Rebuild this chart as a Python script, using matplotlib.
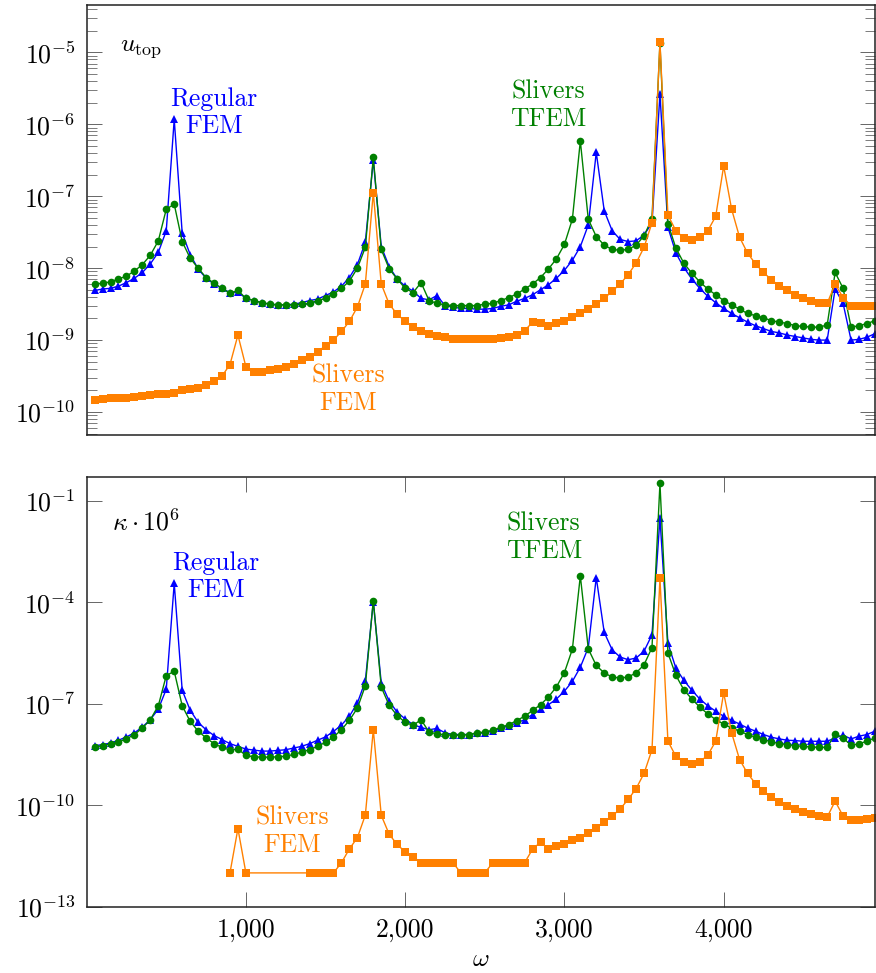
"""
plot.py
Frequency sweep of u_top and kappa for regular FEM, sliver FEM and sliver TFEM.
Output: out.png
"""

import numpy as np
import matplotlib
matplotlib.use("Agg")
import matplotlib.pyplot as plt
from matplotlib.ticker import FixedLocator, FuncFormatter, LogLocator, NullLocator, NullFormatter

# ── data (log10 of the plotted values) ──────────────────────────────────────
omega = list(range(50, 5000, 50))

u_regular_exp = [
    -8.31, -8.29, -8.28, -8.25, -8.20, -8.14, -8.06, -7.94, -7.78, -7.48,
    -5.93, -7.51, -7.81, -8.01, -8.14, -8.22, -8.28, -8.34, -8.33, -8.42,
    -8.45, -8.48, -8.50, -8.51, -8.51, -8.50, -8.48, -8.45, -8.43, -8.38,
    -8.33, -8.25, -8.13, -7.95, -7.64, -6.50, -7.70, -7.98, -8.15, -8.25,
    -8.32, -8.42, -8.44, -8.38, -8.52, -8.54, -8.56, -8.56, -8.57, -8.57,
    -8.56, -8.53, -8.51, -8.46, -8.42, -8.37, -8.30, -8.23, -8.14, -8.03,
    -7.89, -7.70, -7.40, -6.39, -7.20, -7.48, -7.60, -7.63, -7.62, -7.54,
    -7.37, -5.58, -7.43, -7.79, -7.99, -8.15, -8.28, -8.39, -8.48, -8.56,
    -8.63, -8.69, -8.75, -8.80, -8.84, -8.88, -8.90, -8.93, -8.95, -8.97,
    -8.99, -9.00, -9.00, -8.29, -8.49, -9.00, -8.99, -8.96, -8.91,
]
u_tfem_exp = [
    -8.22, -8.21, -8.19, -8.15, -8.11, -8.04, -7.95, -7.82, -7.62, -7.18,
    -7.11, -7.63, -7.86, -8.00, -8.13, -8.21, -8.28, -8.35, -8.31, -8.42,
    -8.45, -8.48, -8.50, -8.51, -8.51, -8.51, -8.50, -8.49, -8.45, -8.42,
    -8.36, -8.28, -8.18, -8.00, -7.71, -6.46, -7.74, -8.01, -8.15, -8.28,
    -8.34, -8.20, -8.45, -8.49, -8.51, -8.52, -8.52, -8.52, -8.52, -8.50,
    -8.49, -8.45, -8.41, -8.36, -8.29, -8.22, -8.13, -8.01, -7.87, -7.67,
    -7.32, -6.23, -7.32, -7.56, -7.68, -7.74, -7.75, -7.74, -7.68, -7.55,
    -7.31, -4.87, -7.38, -7.72, -7.93, -8.07, -8.19, -8.29, -8.37, -8.45,
    -8.51, -8.57, -8.63, -8.66, -8.69, -8.73, -8.75, -8.77, -8.80, -8.81,
    -8.82, -8.82, -8.79, -8.06, -8.28, -8.82, -8.80, -8.77, -8.73,
]
u_fem_exp = [
    -9.83, -9.82, -9.81, -9.81, -9.80, -9.79, -9.78, -9.77, -9.75, -9.75,
    -9.73, -9.70, -9.68, -9.66, -9.62, -9.57, -9.50, -9.34, -8.93, -9.37,
    -9.44, -9.44, -9.42, -9.40, -9.37, -9.33, -9.28, -9.23, -9.16, -9.08,
    -9.00, -8.88, -8.74, -8.54, -8.22, -6.95, -8.22, -8.50, -8.64, -8.74,
    -8.82, -8.87, -8.91, -8.94, -8.96, -8.98, -8.99, -8.99, -8.99, -8.99,
    -8.98, -8.97, -8.95, -8.93, -8.87, -8.75, -8.76, -8.80, -8.76, -8.73,
    -8.68, -8.63, -8.57, -8.50, -8.42, -8.32, -8.22, -8.09, -7.93, -7.71,
    -7.37, -4.85, -7.26, -7.48, -7.58, -7.61, -7.57, -7.48, -7.28, -6.58,
    -7.18, -7.57, -7.79, -7.94, -8.06, -8.16, -8.25, -8.31, -8.37, -8.41,
    -8.45, -8.48, -8.49, -8.22, -8.41, -8.52, -8.52, -8.52, -8.52,
]

k_regular_exp = [
    -8.24, -8.21, -8.16, -8.08, -7.98, -7.86, -7.69, -7.47, -7.16, -6.57,
    -3.44, -6.60, -7.19, -7.55, -7.77, -7.94, -8.06, -8.18, -8.26, -8.34,
    -8.37, -8.40, -8.40, -8.38, -8.36, -8.31, -8.26, -8.18, -8.08, -7.98,
    -7.82, -7.63, -7.37, -6.98, -6.33, -3.98, -6.39, -6.93, -7.25, -7.45,
    -7.62, -7.70, -7.77, -7.73, -7.86, -7.91, -7.91, -7.91, -7.88, -7.86,
    -7.81, -7.73, -7.65, -7.57, -7.47, -7.32, -7.17, -7.03, -6.86, -6.63,
    -6.34, -5.92, -5.34, -3.27, -4.89, -5.41, -5.62, -5.70, -5.65, -5.45,
    -4.96, -1.52, -5.21, -5.95, -6.31, -6.60, -6.86, -7.06, -7.22, -7.37,
    -7.49, -7.60, -7.72, -7.81, -7.91, -7.99, -8.04, -8.08, -8.09, -8.11,
    -8.11, -8.11, -8.11, -8.01, -7.93, -8.04, -7.96, -7.91, -7.81,
]
k_tfem_exp = [
    -8.28, -8.24, -8.19, -8.13, -8.04, -7.91, -7.72, -7.47, -7.06, -6.17,
    -6.04, -7.06, -7.52, -7.81, -8.01, -8.18, -8.29, -8.37, -8.34, -8.53,
    -8.57, -8.58, -8.58, -8.57, -8.55, -8.50, -8.43, -8.36, -8.26, -8.14,
    -7.98, -7.77, -7.49, -7.13, -6.47, -3.95, -6.51, -7.05, -7.35, -7.55,
    -7.64, -7.47, -7.84, -7.89, -7.92, -7.93, -7.93, -7.91, -7.86, -7.84,
    -7.78, -7.70, -7.62, -7.50, -7.37, -7.20, -7.03, -6.80, -6.50, -6.08,
    -5.39, -3.22, -5.38, -5.87, -6.09, -6.21, -6.24, -6.21, -6.09, -5.85,
    -5.34, -0.49, -5.50, -6.16, -6.59, -6.86, -7.10, -7.30, -7.47, -7.60,
    -7.72, -7.81, -7.91, -7.99, -8.06, -8.13, -8.18, -8.21, -8.24, -8.26,
    -8.28, -8.29, -8.29, -7.89, -8.01, -8.23, -8.18, -8.11, -8.01,
]
# sliver FEM kappa: zero (not drawn on log axis) below 900 and for 1050..1350
k_fem_omega = [900, 950, 1000] + list(range(1400, 5000, 50))
k_fem_exp = [
    -12.0, -10.69, -12.0,
    -12.0, -12.0, -12.0, -12.0,
    -11.70, -11.29, -10.96, -10.29, -7.77, -10.30, -10.86, -11.16, -11.38, -11.52,
    -11.70, -11.70, -11.70, -11.70, -11.70, -12.0, -12.0, -12.0, -12.0, -11.70,
    -11.70, -11.70, -11.70, -11.70, -11.30, -11.09, -11.30, -11.21, -11.16, -11.04,
    -10.96, -10.81, -10.67, -10.50, -10.32, -10.11, -9.83, -9.51, -9.06, -8.36,
    -3.29, -8.11, -8.55, -8.73, -8.78, -8.72, -8.52, -8.11, -6.68, -7.86,
    -8.65, -9.06, -9.36, -9.58, -9.76, -9.91, -10.03, -10.12, -10.20, -10.27,
    -10.32, -10.35, -9.88, -10.32, -10.44, -10.44, -10.40, -10.37,
]

BLUE = "#0000ff"
GREEN = "#008000"
ORANGE = "#ff8000"
FS = 18.5
LS = 1.2


def setup_fonts():
    plt.rcParams["font.family"] = "serif"
    plt.rcParams["font.serif"] = ["cmr10", "DejaVu Serif"]
    plt.rcParams["mathtext.fontset"] = "cm"
    plt.rcParams["axes.formatter.use_mathtext"] = True
    plt.rcParams["font.size"] = FS


def draw_series(ax, series):
    for x, exps, color, marker, ms in series:
        ax.plot(x, 10.0 ** np.array(exps), color=color, lw=1.0,
                marker=marker, markersize=ms, markeredgewidth=0)


def style_axis(ax):
    for s in ax.spines.values():
        s.set_linewidth(1.1)
        s.set_color("#222222")
    ax.tick_params(which="both", direction="in", color="#666666",
                   left=True, right=True, labelsize=FS)
    ax.tick_params(which="major", length=11, width=0.7, pad=8)
    ax.tick_params(which="minor", length=7, width=0.6)
    ax.set_xlim(0, 4950)


def label(ax, x, y, s, color):
    ax.text(x, y, s, color=color, ha="center", va="center",
            fontsize=FS, linespacing=LS)


def main():
    setup_fonts()
    fig = plt.figure(figsize=(8.76, 9.73), dpi=100)
    ax1 = fig.add_axes([0.0989, 0.5529, 0.8999, 0.4420])
    ax2 = fig.add_axes([0.0989, 0.0681, 0.8999, 0.4420])

    # ── top: u_top ──
    draw_series(ax1, [
        (omega, u_regular_exp, BLUE, "^", 5.5),
        (omega, u_tfem_exp, GREEN, "o", 5.5),
        (omega, u_fem_exp, ORANGE, "s", 5.5),
    ])
    ax1.set_yscale("log")
    ax1.set_ylim(10 ** -10.32, 10 ** -4.34)
    ax1.yaxis.set_major_locator(FixedLocator([1e-10, 1e-9, 1e-8, 1e-7, 1e-6, 1e-5]))
    ax1.yaxis.set_minor_locator(LogLocator(base=10, subs=np.arange(2, 10), numticks=20))
    ax1.yaxis.set_minor_formatter(NullFormatter())
    ax1.xaxis.set_major_locator(NullLocator())
    style_axis(ax1)

    ax1.text(0.042, 0.90, r"$u_{\mathrm{top}}$", transform=ax1.transAxes,
             fontsize=FS, va="center", ha="left")
    label(ax1, 800, 10 ** -5.84, "Regular\nFEM", BLUE)
    label(ax1, 2900, 10 ** -5.73, "Slivers\nTFEM", GREEN)
    label(ax1, 1640, 10 ** -9.69, "Slivers\nFEM", ORANGE)

    # ── bottom: kappa ──
    draw_series(ax2, [
        (omega, k_regular_exp, BLUE, "^", 5.5),
        (omega, k_tfem_exp, GREEN, "o", 5.5),
        (k_fem_omega, k_fem_exp, ORANGE, "s", 5.5),
    ])
    ax2.set_yscale("log")
    ax2.set_ylim(1e-13, 10 ** -0.29)
    ax2.yaxis.set_major_locator(FixedLocator([1e-13, 1e-10, 1e-7, 1e-4, 1e-1]))
    ax2.yaxis.set_minor_locator(NullLocator())
    ax2.xaxis.set_major_locator(FixedLocator([1000, 2000, 3000, 4000]))
    ax2.xaxis.set_major_formatter(FuncFormatter(lambda v, p: f"{int(v):,}"))
    style_axis(ax2)
    ax2.tick_params(axis="x", which="both", top=True, bottom=True)
    ax2.set_xlabel(r"$\omega$", fontsize=FS, labelpad=4)

    ax2.text(0.032, 0.895, r"$\kappa \cdot 10^6$", transform=ax2.transAxes,
             fontsize=FS, va="center", ha="left")
    label(ax2, 810, 10 ** -3.25, "Regular\nFEM", BLUE)
    label(ax2, 2870, 10 ** -2.07, "Slivers\nTFEM", GREEN)
    label(ax2, 1290, 10 ** -10.78, "Slivers\nFEM", ORANGE)

    fig.savefig("out.png", dpi=100)
    print("Saved: out.png")


if __name__ == "__main__":
    main()
